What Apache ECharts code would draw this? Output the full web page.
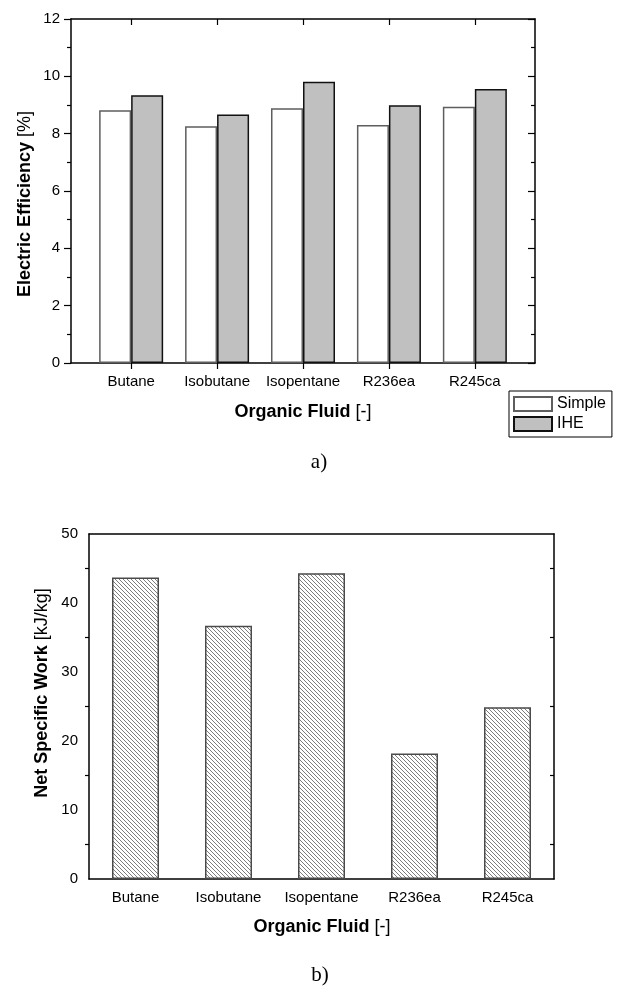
<!DOCTYPE html>
<html>
<head>
<meta charset="utf-8">
<script src="https://cdn.jsdelivr.net/npm/echarts@6/dist/echarts.min.js"></script>
<style>
  html, body { margin: 0; padding: 0; background: #fff; }
  #chart { width: 618px; height: 987px; }
</style>
</head>
<body>
<div id="chart"></div>
<script>
// data
const fluids = ['Butane', 'Isobutane', 'Isopentane', 'R236ea', 'R245ca'];
const simpleEff = [8.82, 8.26, 8.89, 8.30, 8.94];
const iheEff = [9.34, 8.67, 9.81, 8.99, 9.56];
const netWork = [43.7, 36.7, 44.3, 18.2, 24.9];
const effTicks = [0, 2, 4, 6, 8, 10, 12];
const workTicks = [0, 10, 20, 30, 40, 50];

const fluidPos = fluids.map((f, i) => i + 1);

// "\" hatch for the lower chart, drawn pixel by pixel so it stays crisp
function hatch() {
  const n = 4;
  const c = document.createElement('canvas');
  c.width = n; c.height = n;
  const g = c.getContext('2d');
  g.fillStyle = '#fff';
  g.fillRect(0, 0, n, n);
  g.fillStyle = '#7d7d7d';
  for (let i = 0; i < n; i++) g.fillRect(i, i, 1, 1);
  return c;
}

const font = '"Liberation Sans", Arial, sans-serif';
const axisLine = { show: true, onZero: false, lineStyle: { color: '#000', width: 1.5 } };
const tickStyle = { color: '#000', width: 1.2 };
const labelStyle = { color: '#000', fontSize: 15, fontFamily: font };

function yAxisPair(gridIndex, ticks) {
  const base = {
    type: 'value', gridIndex,
    min: ticks[0], max: ticks[ticks.length - 1], interval: ticks[1] - ticks[0],
    splitLine: { show: false },
    axisLine,
    minorTick: { show: true, splitNumber: 2, length: 4, lineStyle: tickStyle }
  };
  return [
    Object.assign({}, base, {
      position: 'left',
      axisTick: { length: 7, lineStyle: tickStyle },
      axisLabel: Object.assign({ margin: 11 }, labelStyle)
    }),
    Object.assign({}, base, {
      position: 'right',
      axisTick: { inside: true, length: 7, lineStyle: tickStyle },
      axisLabel: { show: false }
    })
  ];
}

const topX = {
  type: 'value', gridIndex: 0, min: 0.3, max: 5.7,
  splitLine: { show: false }, axisLine
};

const option = {
  animation: false,
  backgroundColor: '#fff',
  textStyle: { fontFamily: font },
  grid: [
    { left: 71, top: 19, width: 464, height: 344 },
    { left: 89, top: 534, width: 465, height: 345 }
  ],
  legend: {
    data: ['Simple', 'IHE'],
    orient: 'vertical',
    left: 509, top: 391,
    padding: [5, 6, 5, 4],
    itemGap: 4,
    itemWidth: 38, itemHeight: 14,
    icon: 'rect',
    borderColor: '#000', borderWidth: 1, borderRadius: 0,
    textStyle: { color: '#000', fontSize: 16, fontFamily: font }
  },
  xAxis: [
    Object.assign({}, topX, {
      position: 'bottom',
      axisTick: { length: 6, lineStyle: tickStyle, customValues: fluidPos },
      axisLabel: Object.assign({
        margin: 11, customValues: fluidPos,
        formatter: v => fluids[Math.round(v) - 1] || ''
      }, labelStyle)
    }),
    Object.assign({}, topX, {
      position: 'top',
      axisTick: { inside: true, length: 6, lineStyle: tickStyle, customValues: fluidPos },
      axisLabel: { show: false }
    }),
    {
      type: 'category', gridIndex: 1, position: 'bottom', data: fluids,
      axisLine,
      axisTick: { alignWithLabel: true, interval: 0, length: 6, lineStyle: tickStyle },
      axisLabel: Object.assign({ margin: 11, interval: 0 }, labelStyle)
    },
    {
      type: 'category', gridIndex: 1, position: 'top', data: fluids,
      axisLine,
      axisTick: { inside: true, alignWithLabel: true, interval: 0, length: 6, lineStyle: tickStyle },
      axisLabel: { show: false }
    }
  ],
  yAxis: [].concat(yAxisPair(0, effTicks), yAxisPair(1, workTicks)),
  series: [
    {
      name: 'Simple', type: 'bar', xAxisIndex: 0, yAxisIndex: 0,
      barWidth: 32, barGap: '0%',
      itemStyle: { color: '#fff', borderColor: '#5e5e5e', borderWidth: 1.5 },
      data: simpleEff.map((v, i) => [fluidPos[i], v])
    },
    {
      name: 'IHE', type: 'bar', xAxisIndex: 0, yAxisIndex: 0,
      barWidth: 32, barGap: '0%',
      itemStyle: { color: '#c0c0c0', borderColor: '#111', borderWidth: 1.5 },
      data: iheEff.map((v, i) => [fluidPos[i], v])
    },
    {
      name: 'Net Specific Work', type: 'bar', xAxisIndex: 2, yAxisIndex: 2,
      barWidth: 47,
      itemStyle: {
        color: { image: hatch(), repeat: 'repeat' },
        borderColor: '#4a4a4a', borderWidth: 1.5
      },
      data: netWork
    }
  ],
  graphic: [
    {
      type: 'text', x: 25, y: 204, rotation: Math.PI / 2,
      style: {
        text: '{b|Electric Efficiency} [%]',
        font: '18px ' + font, fill: '#000', align: 'center', verticalAlign: 'middle',
        rich: { b: { fontWeight: 'bold', fontSize: 18, fontFamily: font } }
      }
    },
    {
      type: 'text', x: 303, y: 412,
      style: {
        text: '{b|Organic Fluid} [-]',
        font: '18px ' + font, fill: '#000', align: 'center', verticalAlign: 'middle',
        rich: { b: { fontWeight: 'bold', fontSize: 18, fontFamily: font } }
      }
    },
    {
      type: 'text', x: 319, y: 462,
      style: {
        text: 'a)', font: '21px "Liberation Serif", "Times New Roman", serif',
        fill: '#000', align: 'center', verticalAlign: 'middle'
      }
    },
    {
      type: 'text', x: 42, y: 693, rotation: Math.PI / 2,
      style: {
        text: '{b|Net Specific Work} [kJ/kg]',
        font: '18px ' + font, fill: '#000', align: 'center', verticalAlign: 'middle',
        rich: { b: { fontWeight: 'bold', fontSize: 18, fontFamily: font } }
      }
    },
    {
      type: 'text', x: 322, y: 927,
      style: {
        text: '{b|Organic Fluid} [-]',
        font: '18px ' + font, fill: '#000', align: 'center', verticalAlign: 'middle',
        rich: { b: { fontWeight: 'bold', fontSize: 18, fontFamily: font } }
      }
    },
    {
      type: 'text', x: 320, y: 975,
      style: {
        text: 'b)', font: '21px "Liberation Serif", "Times New Roman", serif',
        fill: '#000', align: 'center', verticalAlign: 'middle'
      }
    }
  ]
};

const chart = echarts.init(document.getElementById('chart'), null, { renderer: 'canvas' });
chart.setOption(option);
</script>
</body>
</html>
